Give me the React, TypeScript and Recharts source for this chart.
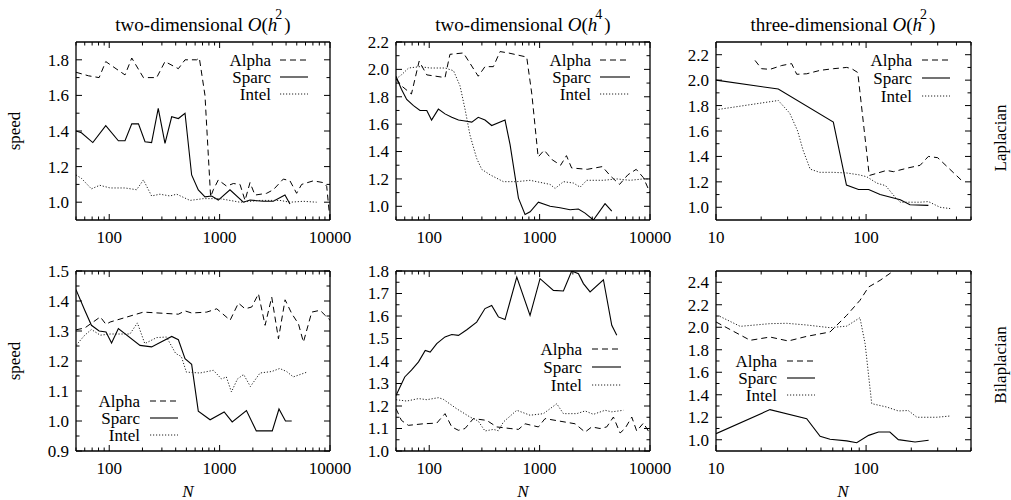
import React from 'react';
import { LineChart, Line, XAxis, YAxis } from 'recharts';

const W = 1011;
const H = 500;
const FONT = "'Liberation Serif','Times New Roman','DejaVu Serif',serif";

// ---------- tick values ----------
const xMajor2D = [100, 1000, 10000];
const xMinor2D = [50, 60, 70, 80, 90, 200, 300, 400, 500, 600, 700, 800, 900, 2000, 3000, 4000, 5000, 6000, 7000, 8000, 9000];
const xMajor3D = [10, 100];
const xMinor3D = [20, 30, 40, 50, 60, 70, 80, 90, 200, 300, 400, 500];

const yMajorA = [1.0, 1.2, 1.4, 1.6, 1.8];
const yMinorA = [1.1, 1.3, 1.5, 1.7];
const yMajorB = [1.0, 1.2, 1.4, 1.6, 1.8, 2.0, 2.2];
const yMinorB = [1.1, 1.3, 1.5, 1.7, 1.9, 2.1];
const yMajorC = [1.0, 1.2, 1.4, 1.6, 1.8, 2.0, 2.2];
const yMinorC = [1.1, 1.3, 1.5, 1.7, 1.9, 2.1];
const yMajorD = [0.9, 1.0, 1.1, 1.2, 1.3, 1.4, 1.5];
const yMinorD = [0.95, 1.05, 1.15, 1.25, 1.35, 1.45];
const yMajorE = [1.0, 1.1, 1.2, 1.3, 1.4, 1.5, 1.6, 1.7, 1.8];
const yMinorE = [1.05, 1.15, 1.25, 1.35, 1.45, 1.55, 1.65, 1.75];
const yMajorF = [1.0, 1.2, 1.4, 1.6, 1.8, 2.0, 2.2, 2.4];
const yMinorF = [1.1, 1.3, 1.5, 1.7, 1.9, 2.1, 2.3];

const seriesNames = ['Alpha', 'Sparc', 'Intel'];

// ---------- data: [N, speed] ----------
const lap2AlphaPts = [[50,1.73],[65,1.71],[81,1.70],[93,1.79],[139,1.715],[160,1.81],[204,1.70],[269,1.70],[320,1.79],[423,1.75],[486,1.80],[619,1.80],[655,1.81],[737,1.60],[829,1.03],[877,1.07],[973,1.125],[1158,1.09],[1331,1.105],[1530,1.10],[1699,1.01],[1885,1.11],[2091,1.04],[2667,1.05],[3064,1.07],[3776,1.13],[4338,1.12],[4985,1.05],[5535,1.10],[7063,1.12],[8700,1.11],[9333,1.09],[10000,0.9]];
const lap2SparcPts = [[50,1.40],[56,1.39],[71,1.335],[93,1.43],[121,1.345],[139,1.345],[160,1.44],[184,1.44],[211,1.34],[242,1.335],[278,1.527],[320,1.33],[368,1.48],[423,1.47],[486,1.50],[558,1.153],[641,1.069],[737,1.03],[847,1.035],[973,1.012],[1241,1.07],[1641,1.0],[1885,1.012],[2489,1.005],[3064,1.005],[3908,1.04],[4338,0.99]];
const lap2IntelPts = [[50,1.153],[56,1.134],[69,1.075],[82,1.095],[102,1.08],[139,1.08],[177,1.07],[204,1.125],[242,1.035],[288,1.045],[355,1.035],[408,1.045],[539,1.01],[712,1.02],[1007,1.02],[1530,1.0],[2324,1.01],[3525,1.01],[4338,1.0],[5730,1.005],[7566,1.0]];

const lap4AlphaPts = [[50,1.93],[56,1.88],[69,1.82],[81,2.06],[95,1.96],[139,1.94],[154,2.11],[204,2.12],[278,1.95],[320,2.02],[381,2.02],[438,2.13],[521,2.12],[764,2.09],[850,1.82],[970,1.36],[1100,1.41],[1300,1.34],[1550,1.30],[1750,1.37],[1950,1.28],[2700,1.27],[3700,1.29],[4400,1.22],[5300,1.16],[6300,1.23],[7500,1.27],[8700,1.21],[10000,1.1]];
const lap4SparcPts = [[50,1.95],[56,1.855],[62.5,1.78],[72,1.735],[82.5,1.70],[95,1.70],[105,1.63],[121,1.71],[139,1.675],[160,1.65],[184,1.63],[204,1.625],[243,1.615],[278,1.65],[320,1.63],[368,1.59],[486,1.63],[540,1.45],[643,1.06],[738,0.94],[820,0.96],[975,1.03],[1245,1.0],[1531,0.99],[1888,0.975],[2245,0.98],[2581,0.95],[3071,0.9],[3915,1.02],[4505,0.965]];
const lap4IntelPts = [[50,1.93],[56,1.96],[65,2.01],[82.5,2.02],[102,2.01],[139,2.01],[166,1.99],[190,1.88],[211,1.71],[234,1.52],[269,1.35],[299,1.27],[356,1.23],[470,1.18],[621,1.18],[819,1.19],[1082,1.17],[1245,1.16],[1381,1.13],[1644,1.18],[2024,1.17],[2327,1.14],[2675,1.19],[3786,1.19],[4999,1.2],[6607,1.19],[8718,1.2],[10000,1.2]];

const lap3AlphaPts = [[18.2,2.155],[20.1,2.09],[22.9,2.085],[27.4,2.115],[31.9,2.13],[34.5,2.046],[40.2,2.05],[49.4,2.077],[60.5,2.09],[74.3,2.10],[80.2,2.09],[88,2.06],[105,1.25],[137,1.29],[152,1.28],[191,1.31],[229,1.33],[260,1.40],[300,1.39],[434,1.21]];
const lap3SparcPts = [[10,2.0],[26,1.93],[60.5,1.67],[74,1.175],[89,1.14],[104,1.14],[124,1.10],[169,1.06],[196,1.02],[260,1.015]];
const lap3IntelPts = [[10.4,1.77],[26,1.84],[31,1.74],[35,1.6],[38,1.45],[42.4,1.30],[49,1.275],[60,1.275],[74,1.27],[90,1.255],[101,1.24],[118,1.19],[135,1.17],[156,1.08],[169,1.04],[229,1.04],[260,1.045],[311,1.0],[363,0.99]];

const bil2AlphaPts = [[50,1.304],[60,1.31],[83,1.347],[93.5,1.322],[102,1.33],[204,1.363],[423,1.356],[486,1.367],[558,1.36],[764,1.363],[942,1.374],[1245,1.336],[1480,1.393],[1702,1.374],[1955,1.38],[2248,1.424],[2583,1.319],[2966,1.413],[3412,1.274],[3918,1.404],[4505,1.358],[5176,1.324],[5744,1.263],[6834,1.363],[8130,1.369],[10000,1.336]];
const bil2SparcPts = [[50,1.438],[60,1.369],[69,1.319],[81,1.30],[93.5,1.297],[105,1.26],[121,1.308],[190,1.252],[242,1.247],[368,1.282],[423,1.271],[486,1.208],[558,1.189],[641,1.033],[820,1.004],[1100,1.03],[1300,0.997],[1750,1.035],[2150,0.967],[3000,0.967],[3450,1.04],[3950,1.0],[4500,1.0]];
const bil2IntelPts = [[50,1.252],[60,1.286],[69,1.305],[83,1.286],[102,1.29],[154,1.29],[180,1.327],[210,1.258],[269,1.278],[330,1.28],[400,1.225],[450,1.215],[500,1.163],[664,1.16],[877,1.169],[1042,1.14],[1150,1.147],[1280,1.097],[1450,1.14],[1650,1.155],[1900,1.115],[2324,1.16],[2966,1.165],[3500,1.175],[4045,1.165],[4651,1.147],[6200,1.163]];

const bil4AlphaPts = [[50,1.188],[56,1.136],[64.7,1.114],[88.5,1.121],[117,1.124],[139,1.166],[160,1.107],[184,1.092],[211,1.10],[251,1.144],[332,1.136],[409,1.107],[540,1.10],[643,1.096],[738,1.121],[975,1.107],[1120,1.144],[2095,1.121],[2581,1.084],[2965,1.107],[3529,1.10],[4055,1.107],[4663,1.151],[5356,1.08],[5940,1.10],[6833,1.151],[7580,1.089],[8716,1.124],[10000,1.077]];
const bil4SparcPts = [[50,1.247],[60,1.329],[69,1.359],[80,1.396],[92,1.447],[102,1.44],[117,1.477],[139,1.507],[160,1.518],[184,1.514],[219,1.539],[269,1.573],[320,1.633],[368,1.647],[423,1.596],[486,1.584],[621,1.773],[819,1.603],[1009,1.766],[1333,1.714],[1643,1.711],[1954,1.80],[2248,1.788],[2494,1.744],[2865,1.707],[3784,1.761],[4505,1.559],[5000,1.514]];
const bil4IntelPts = [[50,1.228],[62.5,1.222],[80,1.233],[95,1.228],[121,1.237],[134,1.23],[177,1.188],[234,1.151],[278,1.133],[320,1.089],[381,1.096],[423,1.09],[470,1.129],[621,1.181],[819,1.159],[1082,1.166],[1429,1.21],[1643,1.166],[2170,1.166],[2581,1.178],[3071,1.163],[3915,1.181],[4505,1.174],[5745,1.181]];

const bil3AlphaPts = [[10,2.047],[16.9,1.884],[22.9,1.913],[30.3,1.878],[40.2,1.919],[57.5,1.958],[74.3,2.106],[91,2.239],[104,2.358],[124,2.417],[152,2.5],[170,2.56]];
const bil3SparcPts = [[10,1.054],[22.9,1.268],[40.2,1.187],[49.4,1.03],[57.5,1.004],[74.3,0.99],[86.6,0.974],[104,1.039],[121,1.069],[144,1.069],[164,1.001],[212,0.98],[261,0.995]];
const bil3IntelPts = [[10.6,2.097],[14.5,2.008],[22.9,2.032],[29.6,2.035],[40.2,2.02],[57.5,1.996],[74.3,2.01],[91,2.085],[98.5,1.854],[109,1.321],[137,1.291],[164,1.256],[191,1.26],[218,1.2],[296,1.2],[363,1.211]];

const toPts = (a: number[][]) => a.map(([n, v]) => ({ n, v }));

// ---------- layout / style ----------
type PanelCfg = {
  x0: number; x1: number; y0: number; y1: number;
  xDomain: [number, number]; yDomain: [number, number];
  xMajor: number[]; xMinor: number[]; yMajor: number[]; yMinor: number[];
  data: number[][][];
  legend: { tx: number; l0: number; l1: number; rows: number[] };
};

const panels: PanelCfg[] = [
  { x0: 76, x1: 330, y0: 42, y1: 220, xDomain: [50, 10000], yDomain: [0.9, 1.9], xMajor: xMajor2D, xMinor: xMinor2D, yMajor: yMajorA, yMinor: yMinorA,
    data: [lap2AlphaPts, lap2SparcPts, lap2IntelPts], legend: { tx: 271, l0: 280, l1: 308, rows: [60, 77, 94] } },
  { x0: 396, x1: 650, y0: 42, y1: 220, xDomain: [50, 10000], yDomain: [0.9, 2.2], xMajor: xMajor2D, xMinor: xMinor2D, yMajor: yMajorB, yMinor: yMinorB,
    data: [lap4AlphaPts, lap4SparcPts, lap4IntelPts], legend: { tx: 591, l0: 600, l1: 630, rows: [60, 77, 94] } },
  { x0: 716, x1: 971, y0: 42, y1: 220, xDomain: [10, 500], yDomain: [0.9, 2.3], xMajor: xMajor3D, xMinor: xMinor3D, yMajor: yMajorC, yMinor: yMinorC,
    data: [lap3AlphaPts, lap3SparcPts, lap3IntelPts], legend: { tx: 912, l0: 922, l1: 950, rows: [60, 78, 96] } },
  { x0: 76, x1: 330, y0: 271, y1: 451, xDomain: [50, 10000], yDomain: [0.9, 1.5], xMajor: xMajor2D, xMinor: xMinor2D, yMajor: yMajorD, yMinor: yMinorD,
    data: [bil2AlphaPts, bil2SparcPts, bil2IntelPts], legend: { tx: 140, l0: 150, l1: 178, rows: [401, 418, 435] } },
  { x0: 396, x1: 650, y0: 271, y1: 451, xDomain: [50, 10000], yDomain: [1.0, 1.8], xMajor: xMajor2D, xMinor: xMinor2D, yMajor: yMajorE, yMinor: yMinorE,
    data: [bil4AlphaPts, bil4SparcPts, bil4IntelPts], legend: { tx: 582, l0: 592, l1: 621, rows: [349, 367, 385] } },
  { x0: 716, x1: 971, y0: 271, y1: 451, xDomain: [10, 500], yDomain: [0.9, 2.5], xMajor: xMajor3D, xMinor: xMinor3D, yMajor: yMajorF, yMinor: yMinorF,
    data: [bil3AlphaPts, bil3SparcPts, bil3IntelPts], legend: { tx: 777, l0: 787, l1: 815, rows: [361, 378, 395] } },
];

const lineStyles = [
  { stroke: '#000', dash: '6 4', width: 1 },
  { stroke: '#000', dash: undefined as string | undefined, width: 1.1 },
  { stroke: '#222', dash: '1.2 1.8', width: 1 },
];

const axisLine = { stroke: '#000', strokeWidth: 1.3 };
const TXT = 17;

function makeXTick(majors: number[], side: 'bottom' | 'top') {
  return (props: any) => {
    const { x, y, payload } = props;
    const val = payload.value;
    const major = majors.includes(val);
    const len = major ? 6 : 3.5;
    if (side === 'top') {
      return <line x1={x} x2={x} y1={y} y2={y + len} stroke="#000" strokeWidth={1} />;
    }
    return (
      <g>
        <line x1={x} x2={x} y1={y} y2={y - len} stroke="#000" strokeWidth={1} />
        {major && (
          <text x={x} y={y + 23} textAnchor="middle" fontFamily={FONT} fontSize={TXT} fill="#000">{String(val)}</text>
        )}
      </g>
    );
  };
}

function makeYTick(majors: number[], side: 'left' | 'right') {
  return (props: any) => {
    const { x, y, payload } = props;
    const val = payload.value;
    const major = majors.some((m) => Math.abs(m - val) < 1e-9);
    const len = major ? 6 : 3.5;
    if (side === 'right') {
      return <line x1={x} x2={x - len} y1={y} y2={y} stroke="#000" strokeWidth={1} />;
    }
    return (
      <g>
        <line x1={x} x2={x + len} y1={y} y2={y} stroke="#000" strokeWidth={1} />
        {major && (
          <text x={x - 7} y={y} dy="0.35em" textAnchor="end" fontFamily={FONT} fontSize={TXT} fill="#000">{val.toFixed(1)}</text>
        )}
      </g>
    );
  };
}

function Panel({ cfg }: { cfg: PanelCfg }) {
  const xt = [...cfg.xMajor, ...cfg.xMinor].sort((a, b) => a - b);
  const yt = [...cfg.yMajor, ...cfg.yMinor].sort((a, b) => a - b);
  const common = { type: 'number' as const, allowDataOverflow: true, interval: 0 as const, tickSize: 0, tickMargin: 0, tickLine: false, axisLine };
  return (
    <div style={{ position: 'absolute', left: 0, top: 0 }}>
      <LineChart width={W} height={H} margin={{ left: cfg.x0 - 1, top: cfg.y0 - 1, right: W - cfg.x1 - 1, bottom: H - cfg.y1 - 1 }}>
        <XAxis xAxisId={0} dataKey="n" scale="log" domain={cfg.xDomain} ticks={xt} height={1} {...common} tick={makeXTick(cfg.xMajor, 'bottom')} />
        <XAxis xAxisId="top" orientation="top" dataKey="n" scale="log" domain={cfg.xDomain} ticks={xt} height={1} {...common} tick={makeXTick(cfg.xMajor, 'top')} />
        <YAxis yAxisId={0} dataKey="v" domain={cfg.yDomain} ticks={yt} width={1} {...common} tick={makeYTick(cfg.yMajor, 'left')} />
        <YAxis yAxisId="right" orientation="right" dataKey="v" domain={cfg.yDomain} ticks={yt} width={1} {...common} tick={makeYTick(cfg.yMajor, 'right')} />
        {cfg.data.map((pts, i) => (
          <Line
            key={seriesNames[i]}
            xAxisId={0}
            yAxisId={0}
            data={toPts(pts)}
            dataKey="v"
            name={seriesNames[i]}
            type="linear"
            stroke={lineStyles[i].stroke}
            strokeWidth={lineStyles[i].width}
            strokeDasharray={lineStyles[i].dash}
            dot={false}
            activeDot={false}
            isAnimationActive={false}
          />
        ))}
      </LineChart>
    </div>
  );
}

function Title({ cx, dim, order }: { cx: number; dim: string; order: string }) {
  return (
    <text x={cx} y={31} textAnchor="middle" fontFamily={FONT} fontSize={19} fill="#000">
      {dim + ' '}
      <tspan fontStyle="italic">O</tspan>
      <tspan>(</tspan>
      <tspan fontStyle="italic">h</tspan>
      <tspan dx={-2} dy={-12} fontSize={14}>{order}</tspan>
      <tspan dx={2} dy={12}>)</tspan>
    </text>
  );
}

export default function App() {
  return (
    <div style={{ position: 'absolute', left: 0, top: 0, width: W, height: H, background: '#fff', overflow: 'hidden' }}>
      {panels.map((p, i) => (
        <Panel key={i} cfg={p} />
      ))}
      <svg width={W} height={H} style={{ position: 'absolute', left: 0, top: 0, pointerEvents: 'none' }}>
        <Title cx={203} dim="two-dimensional" order="2" />
        <Title cx={523} dim="two-dimensional" order="4" />
        <Title cx={843} dim="three-dimensional" order="2" />
        <text transform="translate(20,131) rotate(-90)" textAnchor="middle" fontFamily={FONT} fontSize={TXT}>speed</text>
        <text transform="translate(20,361) rotate(-90)" textAnchor="middle" fontFamily={FONT} fontSize={TXT}>speed</text>
        <text transform="translate(1006,138) rotate(-90)" textAnchor="middle" fontFamily={FONT} fontSize={TXT}>Laplacian</text>
        <text transform="translate(1006,365) rotate(-90)" textAnchor="middle" fontFamily={FONT} fontSize={TXT}>Bilaplacian</text>
        <text x={188} y={497} textAnchor="middle" fontFamily={FONT} fontSize={TXT} fontStyle="italic">N</text>
        <text x={523} y={497} textAnchor="middle" fontFamily={FONT} fontSize={TXT} fontStyle="italic">N</text>
        <text x={843} y={497} textAnchor="middle" fontFamily={FONT} fontSize={TXT} fontStyle="italic">N</text>
        {panels.map((p, pi) => (
          <g key={pi}>
            {seriesNames.map((name, si) => (
              <g key={name}>
                <text x={p.legend.tx} y={p.legend.rows[si]} dy="0.35em" textAnchor="end" fontFamily={FONT} fontSize={TXT} fill="#000">{name}</text>
                <line x1={p.legend.l0} x2={p.legend.l1} y1={p.legend.rows[si]} y2={p.legend.rows[si]} stroke={lineStyles[si].stroke} strokeWidth={lineStyles[si].width} strokeDasharray={lineStyles[si].dash} />
              </g>
            ))}
          </g>
        ))}
      </svg>
    </div>
  );
}
